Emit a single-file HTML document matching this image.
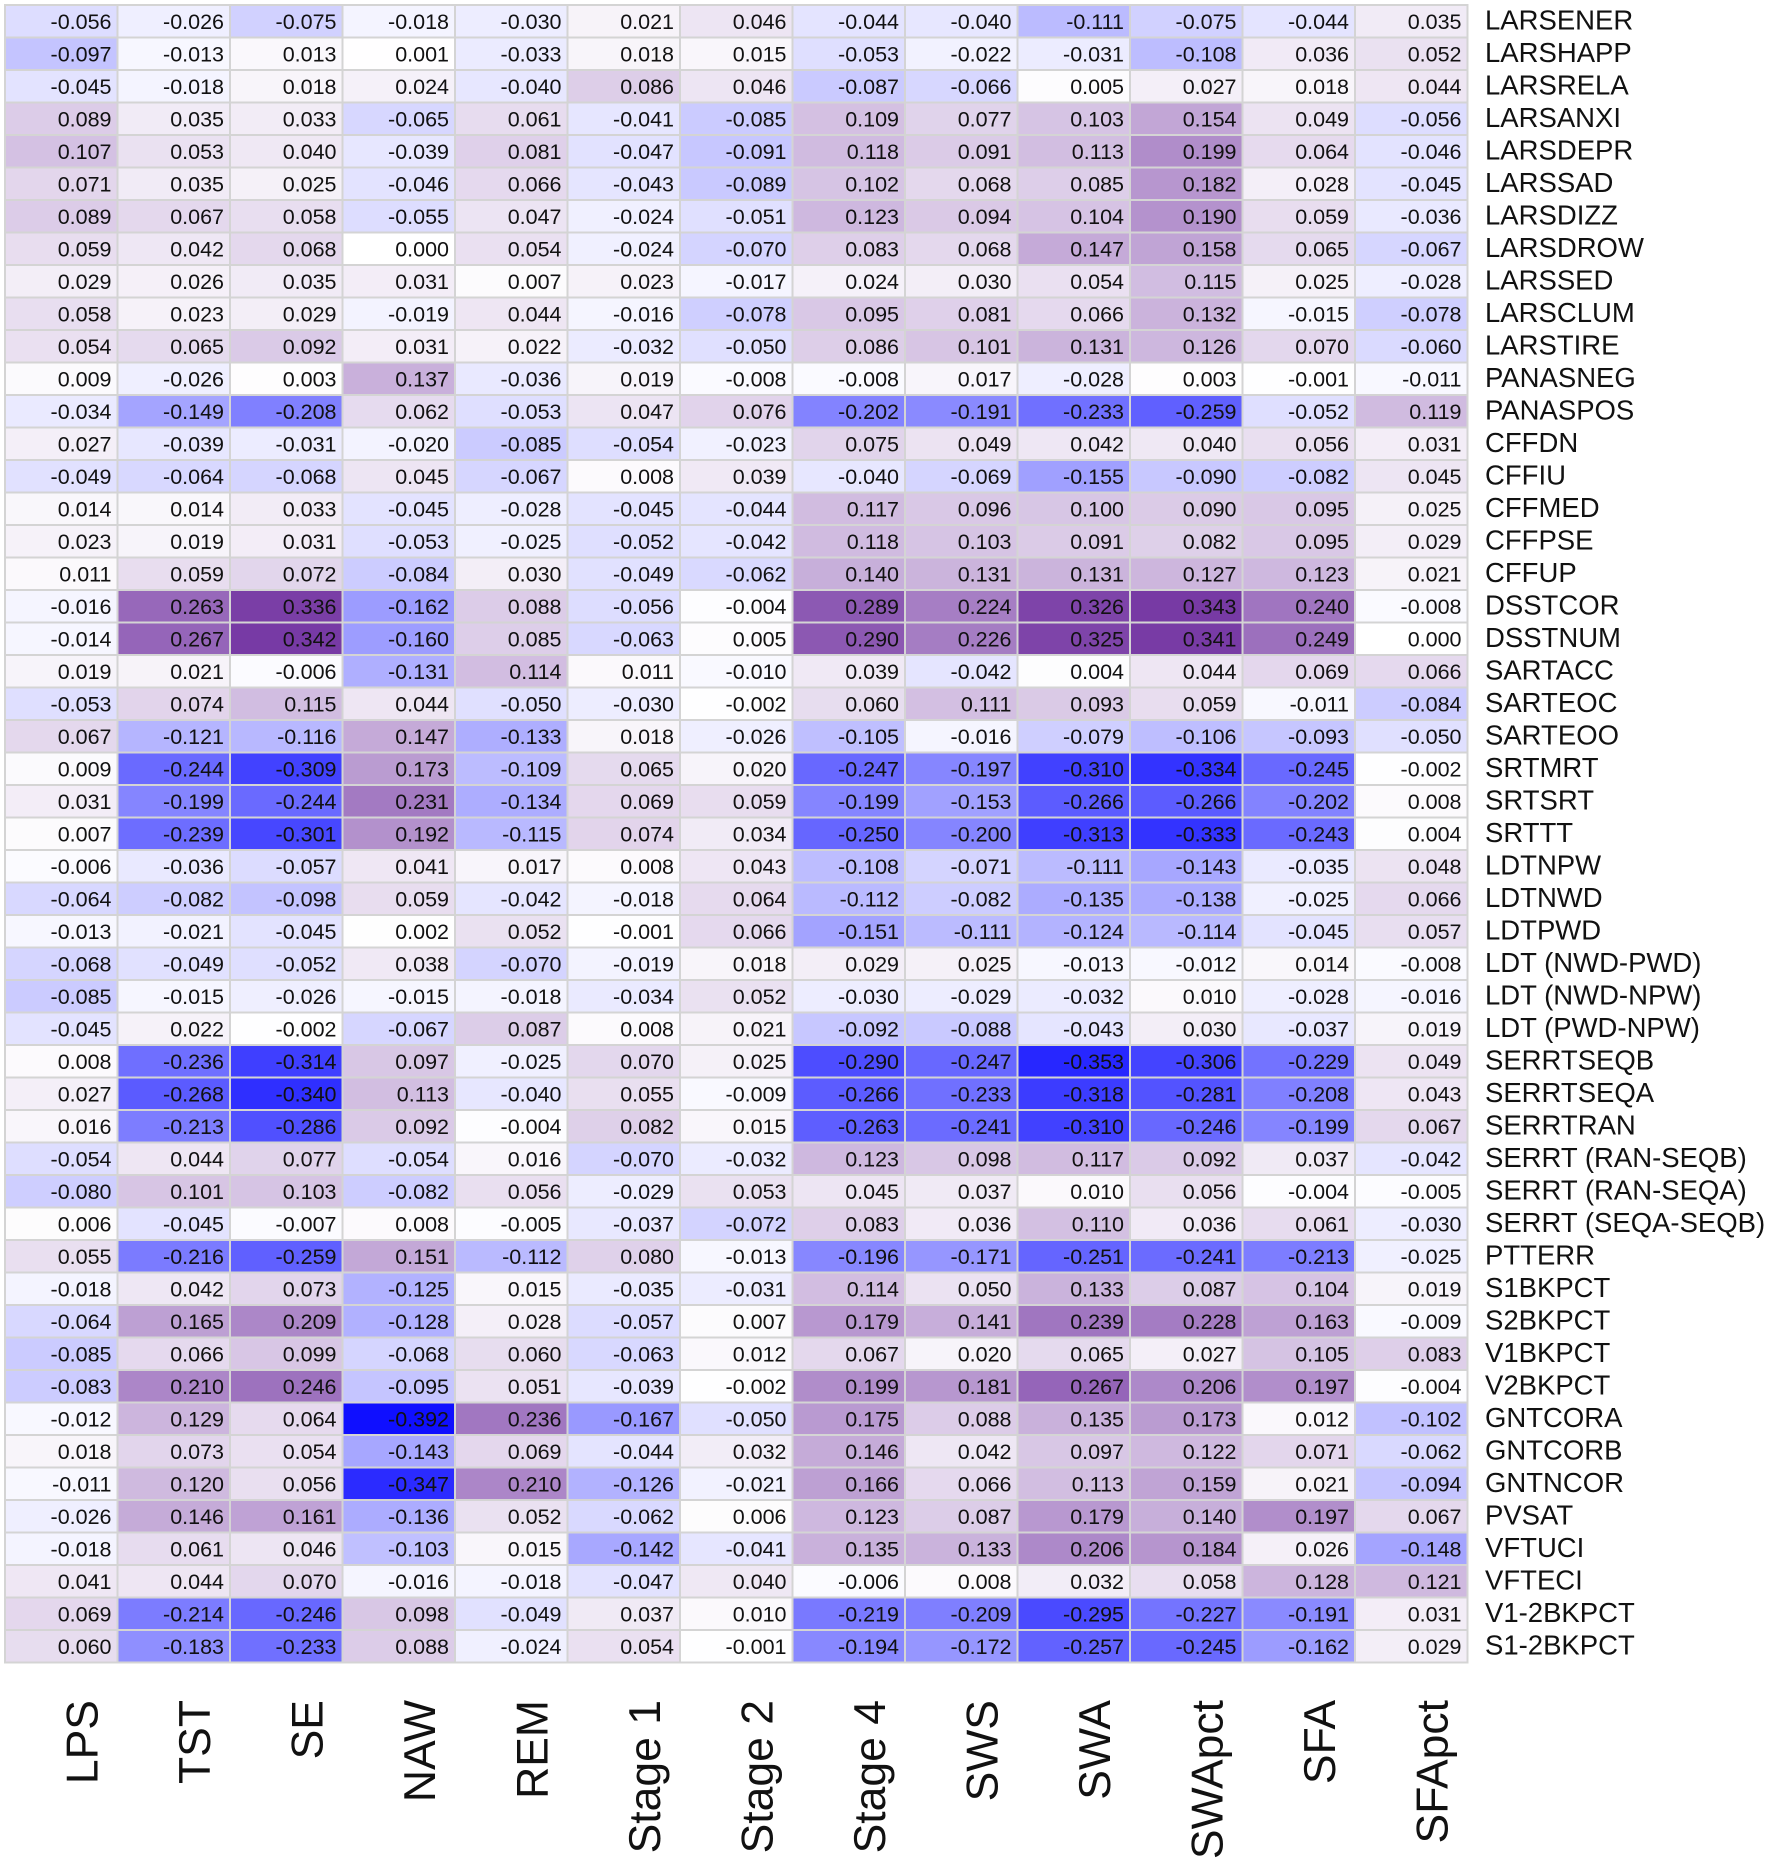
<!DOCTYPE html>
<html><head><meta charset="utf-8">
<style>
html,body{margin:0;padding:0;background:#fff;}
svg{display:block;}
text{font-family:"Liberation Sans",sans-serif;}
</style></head>
<body>
<svg id="chart" width="1772" height="1866" viewBox="0 0 1772 1866" xmlns="http://www.w3.org/2000/svg">
<rect x="0" y="0" width="1772" height="1866" fill="#fff"/>
<g id="cells"></g>
<g id="rowlabels"></g>
<g id="collabels"></g>
</svg>
<script>
const columns = ["LPS","TST","SE","NAW","REM","Stage 1","Stage 2","Stage 4","SWS","SWA","SWApct","SFA","SFApct"];
const rows = ["LARSENER","LARSHAPP","LARSRELA","LARSANXI","LARSDEPR","LARSSAD","LARSDIZZ","LARSDROW","LARSSED","LARSCLUM","LARSTIRE","PANASNEG","PANASPOS","CFFDN","CFFIU","CFFMED","CFFPSE","CFFUP","DSSTCOR","DSSTNUM","SARTACC","SARTEOC","SARTEOO","SRTMRT","SRTSRT","SRTTT","LDTNPW","LDTNWD","LDTPWD","LDT (NWD-PWD)","LDT (NWD-NPW)","LDT (PWD-NPW)","SERRTSEQB","SERRTSEQA","SERRTRAN","SERRT (RAN-SEQB)","SERRT (RAN-SEQA)","SERRT (SEQA-SEQB)","PTTERR","S1BKPCT","S2BKPCT","V1BKPCT","V2BKPCT","GNTCORA","GNTCORB","GNTNCOR","PVSAT","VFTUCI","VFTECI","V1-2BKPCT","S1-2BKPCT"];
const values = [
[-0.056,-0.026,-0.075,-0.018,-0.030,0.021,0.046,-0.044,-0.040,-0.111,-0.075,-0.044,0.035],
[-0.097,-0.013,0.013,0.001,-0.033,0.018,0.015,-0.053,-0.022,-0.031,-0.108,0.036,0.052],
[-0.045,-0.018,0.018,0.024,-0.040,0.086,0.046,-0.087,-0.066,0.005,0.027,0.018,0.044],
[0.089,0.035,0.033,-0.065,0.061,-0.041,-0.085,0.109,0.077,0.103,0.154,0.049,-0.056],
[0.107,0.053,0.040,-0.039,0.081,-0.047,-0.091,0.118,0.091,0.113,0.199,0.064,-0.046],
[0.071,0.035,0.025,-0.046,0.066,-0.043,-0.089,0.102,0.068,0.085,0.182,0.028,-0.045],
[0.089,0.067,0.058,-0.055,0.047,-0.024,-0.051,0.123,0.094,0.104,0.190,0.059,-0.036],
[0.059,0.042,0.068,0.000,0.054,-0.024,-0.070,0.083,0.068,0.147,0.158,0.065,-0.067],
[0.029,0.026,0.035,0.031,0.007,0.023,-0.017,0.024,0.030,0.054,0.115,0.025,-0.028],
[0.058,0.023,0.029,-0.019,0.044,-0.016,-0.078,0.095,0.081,0.066,0.132,-0.015,-0.078],
[0.054,0.065,0.092,0.031,0.022,-0.032,-0.050,0.086,0.101,0.131,0.126,0.070,-0.060],
[0.009,-0.026,0.003,0.137,-0.036,0.019,-0.008,-0.008,0.017,-0.028,0.003,-0.001,-0.011],
[-0.034,-0.149,-0.208,0.062,-0.053,0.047,0.076,-0.202,-0.191,-0.233,-0.259,-0.052,0.119],
[0.027,-0.039,-0.031,-0.020,-0.085,-0.054,-0.023,0.075,0.049,0.042,0.040,0.056,0.031],
[-0.049,-0.064,-0.068,0.045,-0.067,0.008,0.039,-0.040,-0.069,-0.155,-0.090,-0.082,0.045],
[0.014,0.014,0.033,-0.045,-0.028,-0.045,-0.044,0.117,0.096,0.100,0.090,0.095,0.025],
[0.023,0.019,0.031,-0.053,-0.025,-0.052,-0.042,0.118,0.103,0.091,0.082,0.095,0.029],
[0.011,0.059,0.072,-0.084,0.030,-0.049,-0.062,0.140,0.131,0.131,0.127,0.123,0.021],
[-0.016,0.263,0.336,-0.162,0.088,-0.056,-0.004,0.289,0.224,0.326,0.343,0.240,-0.008],
[-0.014,0.267,0.342,-0.160,0.085,-0.063,0.005,0.290,0.226,0.325,0.341,0.249,0.000],
[0.019,0.021,-0.006,-0.131,0.114,0.011,-0.010,0.039,-0.042,0.004,0.044,0.069,0.066],
[-0.053,0.074,0.115,0.044,-0.050,-0.030,-0.002,0.060,0.111,0.093,0.059,-0.011,-0.084],
[0.067,-0.121,-0.116,0.147,-0.133,0.018,-0.026,-0.105,-0.016,-0.079,-0.106,-0.093,-0.050],
[0.009,-0.244,-0.309,0.173,-0.109,0.065,0.020,-0.247,-0.197,-0.310,-0.334,-0.245,-0.002],
[0.031,-0.199,-0.244,0.231,-0.134,0.069,0.059,-0.199,-0.153,-0.266,-0.266,-0.202,0.008],
[0.007,-0.239,-0.301,0.192,-0.115,0.074,0.034,-0.250,-0.200,-0.313,-0.333,-0.243,0.004],
[-0.006,-0.036,-0.057,0.041,0.017,0.008,0.043,-0.108,-0.071,-0.111,-0.143,-0.035,0.048],
[-0.064,-0.082,-0.098,0.059,-0.042,-0.018,0.064,-0.112,-0.082,-0.135,-0.138,-0.025,0.066],
[-0.013,-0.021,-0.045,0.002,0.052,-0.001,0.066,-0.151,-0.111,-0.124,-0.114,-0.045,0.057],
[-0.068,-0.049,-0.052,0.038,-0.070,-0.019,0.018,0.029,0.025,-0.013,-0.012,0.014,-0.008],
[-0.085,-0.015,-0.026,-0.015,-0.018,-0.034,0.052,-0.030,-0.029,-0.032,0.010,-0.028,-0.016],
[-0.045,0.022,-0.002,-0.067,0.087,0.008,0.021,-0.092,-0.088,-0.043,0.030,-0.037,0.019],
[0.008,-0.236,-0.314,0.097,-0.025,0.070,0.025,-0.290,-0.247,-0.353,-0.306,-0.229,0.049],
[0.027,-0.268,-0.340,0.113,-0.040,0.055,-0.009,-0.266,-0.233,-0.318,-0.281,-0.208,0.043],
[0.016,-0.213,-0.286,0.092,-0.004,0.082,0.015,-0.263,-0.241,-0.310,-0.246,-0.199,0.067],
[-0.054,0.044,0.077,-0.054,0.016,-0.070,-0.032,0.123,0.098,0.117,0.092,0.037,-0.042],
[-0.080,0.101,0.103,-0.082,0.056,-0.029,0.053,0.045,0.037,0.010,0.056,-0.004,-0.005],
[0.006,-0.045,-0.007,0.008,-0.005,-0.037,-0.072,0.083,0.036,0.110,0.036,0.061,-0.030],
[0.055,-0.216,-0.259,0.151,-0.112,0.080,-0.013,-0.196,-0.171,-0.251,-0.241,-0.213,-0.025],
[-0.018,0.042,0.073,-0.125,0.015,-0.035,-0.031,0.114,0.050,0.133,0.087,0.104,0.019],
[-0.064,0.165,0.209,-0.128,0.028,-0.057,0.007,0.179,0.141,0.239,0.228,0.163,-0.009],
[-0.085,0.066,0.099,-0.068,0.060,-0.063,0.012,0.067,0.020,0.065,0.027,0.105,0.083],
[-0.083,0.210,0.246,-0.095,0.051,-0.039,-0.002,0.199,0.181,0.267,0.206,0.197,-0.004],
[-0.012,0.129,0.064,-0.392,0.236,-0.167,-0.050,0.175,0.088,0.135,0.173,0.012,-0.102],
[0.018,0.073,0.054,-0.143,0.069,-0.044,0.032,0.146,0.042,0.097,0.122,0.071,-0.062],
[-0.011,0.120,0.056,-0.347,0.210,-0.126,-0.021,0.166,0.066,0.113,0.159,0.021,-0.094],
[-0.026,0.146,0.161,-0.136,0.052,-0.062,0.006,0.123,0.087,0.179,0.140,0.197,0.067],
[-0.018,0.061,0.046,-0.103,0.015,-0.142,-0.041,0.135,0.133,0.206,0.184,0.026,-0.148],
[0.041,0.044,0.070,-0.016,-0.018,-0.047,0.040,-0.006,0.008,0.032,0.058,0.128,0.121],
[0.069,-0.214,-0.246,0.098,-0.049,0.037,0.010,-0.219,-0.209,-0.295,-0.227,-0.191,0.031],
[0.060,-0.183,-0.233,0.088,-0.024,0.054,-0.001,-0.194,-0.172,-0.257,-0.245,-0.162,0.029]
];

const NS = "http://www.w3.org/2000/svg";
const X0 = 5, Y0 = 5, CW = 112.5, RH = 32.5;
function xPos(ci){ return X0 + ci*CW; }
function yPos(ri){ return Y0 + ri*RH; }
function color(v){
  let r,g,b;
  if (v >= 0){ const t = Math.min(1, v/0.36); r = 255+(112-255)*t; g = 255+(48-255)*t; b = 255+(160-255)*t; }
  else { const t = Math.min(1, -v/0.392); r = 255+(15-255)*t; g = 255+(15-255)*t; b = 255; }
  return `rgb(${Math.round(r)},${Math.round(g)},${Math.round(b)})`;
}
function fmt(v){ return v.toFixed(3); }

const grid = document.createElementNS(NS,"rect");
grid.setAttribute("x", X0-1); grid.setAttribute("y", Y0-1);
grid.setAttribute("width", columns.length*CW+2); grid.setAttribute("height", rows.length*RH+2);
grid.setAttribute("fill", "#d4d4d4");


document.getElementById("cells").appendChild(grid);

const cellsG = document.getElementById("cells");
values.forEach((row, ri) => {
  row.forEach((v, ci) => {
    const r = document.createElementNS(NS,"rect");
    r.setAttribute("x", xPos(ci)+1); r.setAttribute("y", yPos(ri)+1);
    r.setAttribute("width", CW-2); r.setAttribute("height", RH-2);
    r.setAttribute("fill", color(v));
    
    
    cellsG.appendChild(r);
    const t = document.createElementNS(NS,"text");
    t.setAttribute("x", xPos(ci)+CW-6); t.setAttribute("y", yPos(ri)+RH/2+7.5);
    t.setAttribute("text-anchor","end"); t.setAttribute("font-size","21.5");
    t.setAttribute("fill","#111");
    t.textContent = fmt(v);
    
    
    cellsG.appendChild(t);
  });
});

const rlG = document.getElementById("rowlabels");
rows.forEach((name, ri) => {
  const t = document.createElementNS(NS,"text");
  t.setAttribute("x", 1485); t.setAttribute("y", yPos(ri)+RH/2+8);
  t.setAttribute("font-size","27.5"); t.setAttribute("fill","#111");
  t.textContent = name;
  
  
  rlG.appendChild(t);
});

const clG = document.getElementById("collabels");
columns.forEach((name, ci) => {
  const cx = xPos(ci) + CW/2 + 36;
  const cy = 1700;
  const t = document.createElementNS(NS,"text");
  t.setAttribute("x", cx); t.setAttribute("y", cy);
  t.setAttribute("text-anchor","end"); t.setAttribute("font-size","44.5");
  t.setAttribute("fill","#111");
  t.setAttribute("transform", `rotate(-90 ${cx} ${cy})`);
  t.textContent = name;
  
  
  clG.appendChild(t);
});
</script>
</body></html>
